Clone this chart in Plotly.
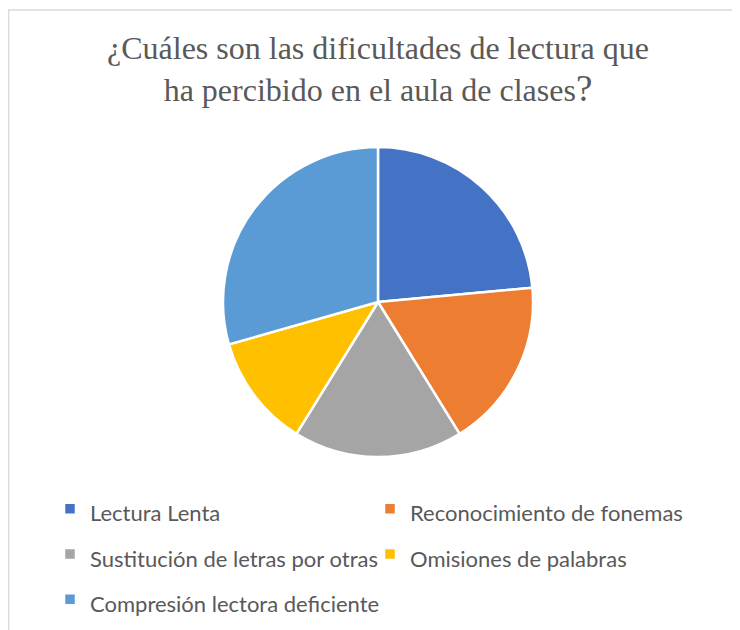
import plotly.graph_objects as go

labels = [
    "Lectura Lenta",
    "Reconocimiento de fonemas",
    "Sustitución de letras por otras",
    "Omisiones de palabras",
    "Compresión lectora deficiente",
]
values = [4, 3, 3, 2, 5]
colors = ["#4472C4", "#ED7D31", "#A5A5A5", "#FFC000", "#5B9BD5"]

W, H = 740, 630
OFF = 8  # page body margin in the browser

TITLE = ("¿Cuáles son las dificultades de lectura que<br>"
         "ha percibido en el aula de clases<span style='font-size:37px'>?</span>")

# legend labels at 22px inside a taller legend font, to get the row spacing
legend_labels = [f"<span style='font-size:22px'>{t}</span>" for t in labels]

cx, cy, r = 378 - OFF, 302 - OFF, 155

fig = go.Figure(go.Pie(
    labels=legend_labels,
    values=values,
    sort=False,
    direction="clockwise",
    rotation=0,
    textinfo="none",
    hoverinfo="value+percent",
    marker=dict(colors=colors, line=dict(color="#ffffff", width=2.5)),
    domain=dict(x=[(cx - r) / W, (cx + r) / W],
                y=[1 - (cy + r) / H, 1 - (cy - r) / H]),
))

fig.update_layout(
    width=W,
    height=H,
    margin=dict(l=0, r=0, t=0, b=0),
    paper_bgcolor="#ffffff",
    title=dict(
        text=TITLE,
        x=0.5, xanchor="center",
        y=1 - 51 / H, yanchor="top",
        font=dict(family="Liberation Serif, Times New Roman, serif", size=32, color="#595959"),
    ),
    legend=dict(
        orientation="h",
        x=42 / W, xanchor="left",
        y=1 - 473 / H, yanchor="top",
        entrywidth=275,
        font=dict(family="Lato", size=32.5, color="#595959"),
        traceorder="normal",
    ),
    shapes=[dict(
        type="rect", xref="paper", yref="paper",
        x0=0.6 / W, x1=1.05, y0=-0.05, y1=1 - 2 / H,
        line=dict(color="#d9d9d9", width=1.5),
    )],
)

fig.write_html("out.html")
